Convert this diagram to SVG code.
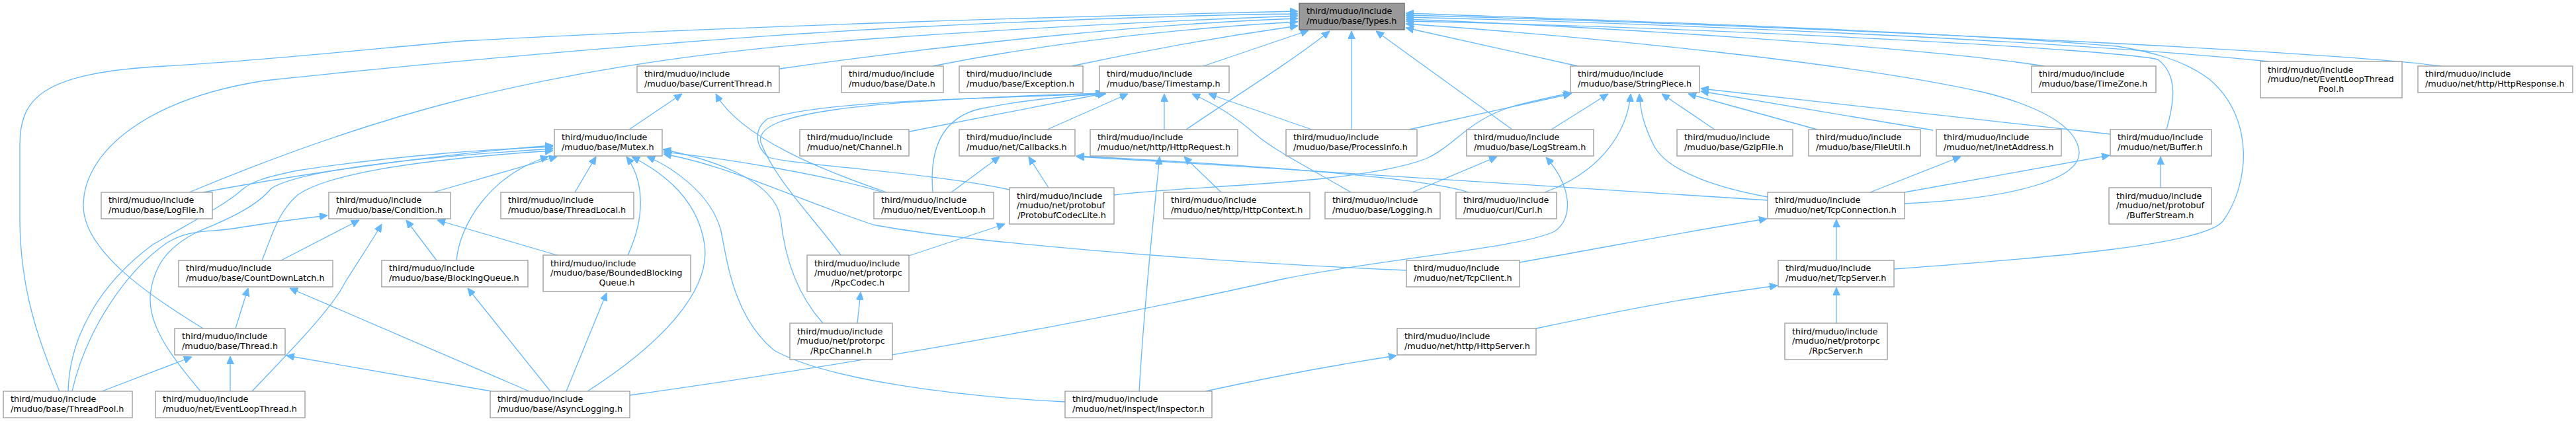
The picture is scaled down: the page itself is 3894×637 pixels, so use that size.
<svg xmlns="http://www.w3.org/2000/svg" width="3894" height="637" viewBox="0 0 3894 637">
<style>
.n rect{fill:#ffffff;stroke:#999999;stroke-width:1.3}
.root rect{fill:#999999;stroke:#666666;stroke-width:1.3}
text{font-family:"DejaVu Sans","Liberation Sans",sans-serif;font-size:12.8px;fill:#000000}
.c{text-anchor:middle}
#edges path{fill:none;stroke:#63b8ff;stroke-width:1.3;marker-end:url(#a)}
</style>
<defs>
<marker id="a" markerUnits="userSpaceOnUse" markerWidth="12" markerHeight="11" refX="12" refY="5.5" viewBox="0 0 12 11" orient="auto">
<path d="M0,0 L12,5.5 L0,11 Z" fill="#63b8ff" stroke="#63b8ff" stroke-width="1"/>
</marker>
</defs>
<rect width="3894" height="637" fill="#ffffff"/>
<g id="edges">
<path d="M1179,104 C1450,65 1750,35 1962,28"/>
<path d="M1410,100 C1600,62 1800,42 1962,33"/>
<path d="M1620,100 C1750,72 1870,52 1962,39"/>
<path d="M1819,100 L1978,46"/>
<path d="M1793,196 C1860,150 1950,95 2010,47"/>
<path d="M2043,196 L2043,47"/>
<path d="M2286,196 L2080,47"/>
<path d="M2385,100 L2125,42"/>
<path d="M3090,100 C2900,70 2400,40 2125,29"/>
<path d="M3430,93 C3100,60 2500,35 2125,26"/>
<path d="M3690,100 C3500,75 2600,35 2125,23"/>
<path d="M3275,196 C3285,160 3295,115 3262,90 C3200,75 2600,42 2125,32"/>
<path d="M2879,308 C3050,300 3145,270 3143,230 C3140,190 3080,160 3000,140 C2800,95 2400,55 2125,36"/>
<path d="M2863,407 C3100,390 3330,370 3360,335 C3400,280 3410,180 3340,120 C3300,90 3250,78 3200,70 C2900,45 2400,30 2125,20"/>
<path d="M286,291 C420,235 560,185 700,150 C900,100 1100,75 1300,60 C1550,42 1800,30 1962,24"/>
<path d="M307,497 C230,450 125,380 126,310 C127,230 220,150 400,122 C700,90 1100,55 1400,40 C1650,28 1850,22 1962,21"/>
<path d="M90,592 C60,520 30,440 30,330 L30,220 C30,150 60,110 250,100 C400,92 600,70 700,62 C1100,40 1600,25 1962,17"/>
<path d="M951,196 L1031,142"/>
<path d="M1340,291 C1250,260 1120,210 1082,142"/>
<path d="M655,291 L842,237"/>
<path d="M690,394 C695,340 740,265 829,237"/>
<path d="M869,291 L901,237"/>
<path d="M949,386 C975,330 975,275 947,237"/>
<path d="M888,592 C1000,520 1075,440 1065,370 C1055,300 1000,260 955,237"/>
<path d="M1610,608 C1450,600 1250,575 1170,530 C1110,480 1100,400 1090,350 C1075,290 1010,250 978,237"/>
<path d="M1244,489 C1200,440 1185,380 1180,330 C1170,270 1070,240 1002,226"/>
<path d="M1335,291 C1250,265 1100,240 1003,230"/>
<path d="M2126,409 C1800,395 1450,365 1320,340 C1200,300 1100,250 1003,233"/>
<path d="M307,291 C500,255 700,230 836,220"/>
<path d="M103,592 C105,510 150,430 231,370 C300,330 340,310 366,287 C380,275 400,268 450,258 C600,235 750,225 836,222"/>
<path d="M303,592 C260,540 220,490 228,440 C235,395 260,370 300,350 C350,330 390,310 410,285 C450,260 600,240 836,225"/>
<path d="M396,394 C410,360 420,320 450,295 C500,260 650,240 836,228"/>
<path d="M109,592 C130,500 190,410 253,367 C290,345 320,352 358,345 C420,335 460,330 495,326"/>
<path d="M381,592 C430,540 500,470 520,430 C545,390 565,360 577,339"/>
<path d="M425,394 L543,333"/>
<path d="M660,394 L614,333"/>
<path d="M842,386 L661,333"/>
<path d="M154,592 L290,540"/>
<path d="M348,592 L348,539"/>
<path d="M356,497 L375,436"/>
<path d="M800,592 L438,436"/>
<path d="M743,592 L433,538"/>
<path d="M832,592 L707,436"/>
<path d="M856,592 L917,443"/>
<path d="M952,598 C1150,570 1550,510 1940,422 C2100,390 2300,375 2350,350 C2380,330 2375,280 2337,238"/>
<path d="M1375,199 L1671,141"/>
<path d="M1583,196 L1705,142"/>
<path d="M1760,196 L1760,142"/>
<path d="M2042,291 C1990,260 1930,230 1900,205 C1860,170 1830,155 1802,142"/>
<path d="M1983,196 L1827,142"/>
<path d="M1410,291 C1405,230 1420,180 1480,165 C1550,150 1620,145 1672,142"/>
<path d="M1526,287 C1400,260 1200,250 1162,238 C1140,220 1140,195 1160,180 C1250,150 1500,150 1670,141"/>
<path d="M1271,386 C1230,330 1170,270 1150,215 C1140,170 1300,152 1668,141"/>
<path d="M1438,291 L1511,237"/>
<path d="M1585,284 L1555,237"/>
<path d="M2672,303 C2400,285 2000,258 1627,237"/>
<path d="M2220,291 C2150,268 1900,250 1627,236"/>
<path d="M1846,291 L1790,237"/>
<path d="M1722,592 C1730,450 1745,320 1753,237"/>
<path d="M2130,196 L2375,142"/>
<path d="M1684,295 C1800,280 2050,280 2156,240 C2200,220 2220,180 2290,160 C2330,150 2360,143 2376,141"/>
<path d="M2345,196 L2431,142"/>
<path d="M2335,291 C2420,260 2460,200 2465,142"/>
<path d="M2672,298 C2600,285 2520,260 2500,220 C2485,190 2480,170 2478,142"/>
<path d="M2592,196 L2512,142"/>
<path d="M2747,196 L2552,142"/>
<path d="M2922,197 L2571,138"/>
<path d="M3190,203 L2571,134"/>
<path d="M2135,291 L2263,237"/>
<path d="M2879,291 L3189,235"/>
<path d="M2827,291 L2964,237"/>
<path d="M3266,284 L3266,237"/>
<path d="M2297,397 C2450,370 2550,350 2671,331"/>
<path d="M2776,394 L2776,332"/>
<path d="M2322,497 C2450,470 2550,450 2687,432"/>
<path d="M2776,489 L2776,435"/>
<path d="M1374,387 L1519,339"/>
<path d="M1296,489 L1301,442"/>
<path d="M1822,592 C1900,575 2000,555 2111,538"/>
</g>
<g id="types" class="root"><rect x="1964" y="5" width="159" height="40"/><text x="1975" y="21">third/muduo/include</text><text x="1975" y="36">/muduo/base/Types.h</text></g>
<g id="currentthread" class="n"><rect x="963" y="100" width="215" height="40"/><text x="974" y="116">third/muduo/include</text><text x="974" y="130.5">/muduo/base/CurrentThread.h</text></g>
<g id="date" class="n"><rect x="1272" y="100" width="154" height="40"/><text x="1283" y="116">third/muduo/include</text><text x="1283" y="130.5">/muduo/base/Date.h</text></g>
<g id="exception" class="n"><rect x="1450" y="100" width="187" height="40"/><text x="1461" y="116">third/muduo/include</text><text x="1461" y="130.5">/muduo/base/Exception.h</text></g>
<g id="timestamp" class="n"><rect x="1662" y="100" width="196" height="40"/><text x="1673" y="116">third/muduo/include</text><text x="1673" y="130.5">/muduo/base/Timestamp.h</text></g>
<g id="stringpiece" class="n"><rect x="2374" y="100" width="195" height="40"/><text x="2385" y="116">third/muduo/include</text><text x="2385" y="130.5">/muduo/base/StringPiece.h</text></g>
<g id="timezone" class="n"><rect x="3071" y="100" width="188" height="40"/><text x="3082" y="116">third/muduo/include</text><text x="3082" y="130.5">/muduo/base/TimeZone.h</text></g>
<g id="eventloopthreadpool" class="n"><rect x="3417" y="93" width="214" height="55"/><text x="3428" y="109.5">third/muduo/include</text><text x="3428" y="124">/muduo/net/EventLoopThread</text><text class="c" x="3524" y="138.5">Pool.h</text></g>
<g id="httpresponse" class="n"><rect x="3655" y="100" width="234" height="40"/><text x="3666" y="116">third/muduo/include</text><text x="3666" y="130.5">/muduo/net/http/HttpResponse.h</text></g>
<g id="mutex" class="n"><rect x="838" y="196" width="163" height="40"/><text x="849" y="212">third/muduo/include</text><text x="849" y="226.5">/muduo/base/Mutex.h</text></g>
<g id="channel" class="n"><rect x="1209" y="196" width="165" height="40"/><text x="1220" y="212">third/muduo/include</text><text x="1220" y="226.5">/muduo/net/Channel.h</text></g>
<g id="callbacks" class="n"><rect x="1450" y="196" width="175" height="40"/><text x="1461" y="212">third/muduo/include</text><text x="1461" y="226.5">/muduo/net/Callbacks.h</text></g>
<g id="httprequest" class="n"><rect x="1648" y="196" width="223" height="40"/><text x="1659" y="212">third/muduo/include</text><text x="1659" y="226.5">/muduo/net/http/HttpRequest.h</text></g>
<g id="processinfo" class="n"><rect x="1944" y="196" width="198" height="40"/><text x="1955" y="212">third/muduo/include</text><text x="1955" y="226.5">/muduo/base/ProcessInfo.h</text></g>
<g id="logstream" class="n"><rect x="2217" y="196" width="192" height="40"/><text x="2228" y="212">third/muduo/include</text><text x="2228" y="226.5">/muduo/base/LogStream.h</text></g>
<g id="gzipfile" class="n"><rect x="2535" y="196" width="175" height="40"/><text x="2546" y="212">third/muduo/include</text><text x="2546" y="226.5">/muduo/base/GzipFile.h</text></g>
<g id="fileutil" class="n"><rect x="2734" y="196" width="169" height="40"/><text x="2745" y="212">third/muduo/include</text><text x="2745" y="226.5">/muduo/base/FileUtil.h</text></g>
<g id="inetaddress" class="n"><rect x="2927" y="196" width="189" height="40"/><text x="2938" y="212">third/muduo/include</text><text x="2938" y="226.5">/muduo/net/InetAddress.h</text></g>
<g id="buffer" class="n"><rect x="3190" y="196" width="153" height="40"/><text x="3201" y="212">third/muduo/include</text><text x="3201" y="226.5">/muduo/net/Buffer.h</text></g>
<g id="logfile" class="n"><rect x="153" y="291" width="168" height="40"/><text x="164" y="307">third/muduo/include</text><text x="164" y="321.5">/muduo/base/LogFile.h</text></g>
<g id="condition" class="n"><rect x="497" y="291" width="184" height="40"/><text x="508" y="307">third/muduo/include</text><text x="508" y="321.5">/muduo/base/Condition.h</text></g>
<g id="threadlocal" class="n"><rect x="757" y="291" width="201" height="40"/><text x="768" y="307">third/muduo/include</text><text x="768" y="321.5">/muduo/base/ThreadLocal.h</text></g>
<g id="eventloop" class="n"><rect x="1321" y="291" width="181" height="40"/><text x="1332" y="307">third/muduo/include</text><text x="1332" y="321.5">/muduo/net/EventLoop.h</text></g>
<g id="protobufcodeclite" class="n"><rect x="1526" y="284" width="158" height="55"/><text x="1537" y="300.5">third/muduo/include</text><text x="1537" y="315">/muduo/net/protobuf</text><text class="c" x="1605" y="329.5">/ProtobufCodecLite.h</text></g>
<g id="httpcontext" class="n"><rect x="1759" y="291" width="221" height="40"/><text x="1770" y="307">third/muduo/include</text><text x="1770" y="321.5">/muduo/net/http/HttpContext.h</text></g>
<g id="logging" class="n"><rect x="2003" y="291" width="174" height="40"/><text x="2014" y="307">third/muduo/include</text><text x="2014" y="321.5">/muduo/base/Logging.h</text></g>
<g id="curl" class="n"><rect x="2201" y="291" width="152" height="40"/><text x="2212" y="307">third/muduo/include</text><text x="2212" y="321.5">/muduo/curl/Curl.h</text></g>
<g id="tcpconnection" class="n"><rect x="2672" y="291" width="207" height="40"/><text x="2683" y="307">third/muduo/include</text><text x="2683" y="321.5">/muduo/net/TcpConnection.h</text></g>
<g id="bufferstream" class="n"><rect x="3188" y="284" width="155" height="55"/><text x="3199" y="300.5">third/muduo/include</text><text x="3199" y="315">/muduo/net/protobuf</text><text class="c" x="3265.5" y="329.5">/BufferStream.h</text></g>
<g id="countdownlatch" class="n"><rect x="270" y="394" width="233" height="40"/><text x="281" y="410">third/muduo/include</text><text x="281" y="424.5">/muduo/base/CountDownLatch.h</text></g>
<g id="blockingqueue" class="n"><rect x="577" y="394" width="221" height="40"/><text x="588" y="410">third/muduo/include</text><text x="588" y="424.5">/muduo/base/BlockingQueue.h</text></g>
<g id="boundedblockingqueue" class="n"><rect x="821" y="386" width="223" height="55"/><text x="832" y="402.5">third/muduo/include</text><text x="832" y="417">/muduo/base/BoundedBlocking</text><text class="c" x="932.5" y="431.5">Queue.h</text></g>
<g id="rpccodec" class="n"><rect x="1220" y="386" width="154" height="55"/><text x="1231" y="402.5">third/muduo/include</text><text x="1231" y="417">/muduo/net/protorpc</text><text class="c" x="1297" y="431.5">/RpcCodec.h</text></g>
<g id="tcpclient" class="n"><rect x="2126" y="394" width="171" height="40"/><text x="2137" y="410">third/muduo/include</text><text x="2137" y="424.5">/muduo/net/TcpClient.h</text></g>
<g id="tcpserver" class="n"><rect x="2688" y="394" width="175" height="40"/><text x="2699" y="410">third/muduo/include</text><text x="2699" y="424.5">/muduo/net/TcpServer.h</text></g>
<g id="thread" class="n"><rect x="264" y="497" width="167" height="40"/><text x="275" y="513">third/muduo/include</text><text x="275" y="527.5">/muduo/base/Thread.h</text></g>
<g id="rpcchannel" class="n"><rect x="1194" y="489" width="155" height="55"/><text x="1205" y="505.5">third/muduo/include</text><text x="1205" y="520">/muduo/net/protorpc</text><text class="c" x="1271.5" y="534.5">/RpcChannel.h</text></g>
<g id="httpserver" class="n"><rect x="2112" y="497" width="210" height="40"/><text x="2123" y="513">third/muduo/include</text><text x="2123" y="527.5">/muduo/net/http/HttpServer.h</text></g>
<g id="rpcserver" class="n"><rect x="2698" y="489" width="155" height="55"/><text x="2709" y="505.5">third/muduo/include</text><text x="2709" y="520">/muduo/net/protorpc</text><text class="c" x="2775.5" y="534.5">/RpcServer.h</text></g>
<g id="threadpool" class="n"><rect x="5" y="592" width="195" height="40"/><text x="16" y="608">third/muduo/include</text><text x="16" y="622.5">/muduo/base/ThreadPool.h</text></g>
<g id="eventloopthread" class="n"><rect x="235" y="592" width="226" height="40"/><text x="246" y="608">third/muduo/include</text><text x="246" y="622.5">/muduo/net/EventLoopThread.h</text></g>
<g id="asynclogging" class="n"><rect x="741" y="592" width="211" height="40"/><text x="752" y="608">third/muduo/include</text><text x="752" y="622.5">/muduo/base/AsyncLogging.h</text></g>
<g id="inspector" class="n"><rect x="1610" y="592" width="222" height="40"/><text x="1621" y="608">third/muduo/include</text><text x="1621" y="622.5">/muduo/net/inspect/Inspector.h</text></g>
</svg>
